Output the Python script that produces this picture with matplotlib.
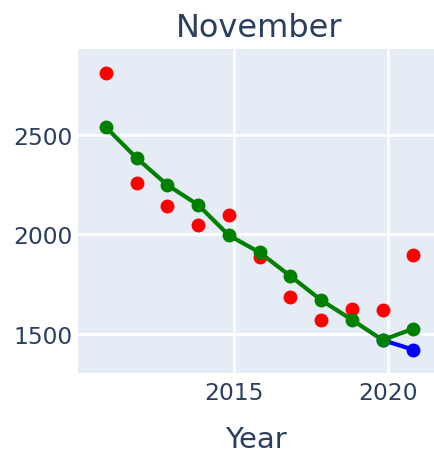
import datetime as dt
import matplotlib
matplotlib.use("Agg")
import matplotlib.pyplot as plt
import matplotlib.dates as mdates

years = [2010, 2011, 2012, 2013, 2014, 2015, 2016, 2017, 2018, 2019, 2020]
observed = [2813, 2258, 2141, 2045, 2097, 1887, 1686, 1567, 1624, 1617, 1894]
fitted = [2539, 2384, 2248, 2148, 1995, 1909, 1790, 1669, 1570, 1468, 1525]
forecast_years = [2019, 2020]
forecast = [1468, 1419]
xtick_years = [2015, 2020]
ytick_values = [1500, 2000, 2500]

TXT = "#2a3f5f"
BG = "#e5ecf6"

plt.rcParams['font.family'] = ['DejaVu Sans']

fig = plt.figure(figsize=(4.34, 4.60), dpi=100)
ax = fig.add_axes([78/434, 1 - 374/460, 1 - 78/434, (374 - 50)/460])
ax.set_facecolor(BG)

xd = [dt.date(y, 11, 1) for y in years]
fd = [dt.date(y, 11, 1) for y in forecast_years]

ax.plot(xd, observed, linestyle='none', marker='o', color='red', markersize=9,
        zorder=3)
ax.plot(fd, forecast, color='blue', linewidth=3, marker='o', markersize=9,
        zorder=4)
ax.plot(xd, fitted, color='green', linewidth=3, marker='o', markersize=9,
        zorder=5)

x0 = mdates.date2num(dt.date(2015, 1, 1))
x1 = mdates.date2num(dt.date(2020, 1, 1))
ppd = (387.7 - 234) / (x1 - x0)
ax.set_xlim(x0 + (78 - 234) / ppd, x1 + (434 - 387.7) / ppd)
ax.set_ylim(1302, 2933)

ax.set_xticks([mdates.date2num(dt.date(y, 1, 1)) for y in xtick_years])
ax.set_xticklabels([str(y) for y in xtick_years])
ax.set_yticks(ytick_values)
ax.set_yticklabels([str(v) for v in ytick_values])

ax.grid(True, color='white', linewidth=2.0)
ax.set_axisbelow(True)
for s in ax.spines.values():
    s.set_visible(False)
ax.tick_params(axis='both', length=0, labelsize=16.8, labelcolor=TXT)
ax.tick_params(axis='x', pad=6)
ax.tick_params(axis='y', pad=4)

ax.set_title("November", fontsize=23, color=TXT, pad=9, x=0.51)
ax.set_xlabel("Year", fontsize=21, color=TXT, labelpad=15)

fig.savefig("out.png", dpi=100, facecolor='white')
